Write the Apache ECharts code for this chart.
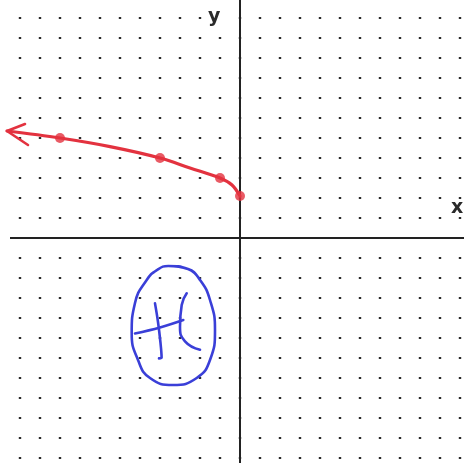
<!DOCTYPE html>
<html>
<head>
<meta charset="utf-8">
<script src="https://cdn.jsdelivr.net/npm/echarts@6/dist/echarts.min.js"></script>
<style>
  html, body { margin: 0; padding: 0; background: #ffffff; }
  #chart { width: 464px; height: 463px; }
</style>
</head>
<body>
<div id="chart"></div>
<script>
// Sketched graph of the curve through the plotted points (0,2), (-1,3), (-4,4), (-9,5)
var xRange = [-12, 12];
var yRange = [-12, 12];

// plotted points of the curve
var pointsX = [0, -1, -4, -9];
var pointsY = [2.1, 3, 4, 5];

// freehand path of the red curve, ending in the arrow tip on the left
var curveX = [0, -0.4, -1, -2.5, -4, -6.5, -9, -11.65];
var curveY = [2.1, 2.65, 3, 3.5, 4, 4.57, 5, 5.35];

// open arrowhead at the left end of the curve
var arrowX = [-10.75, -11.65, -10.6];
var arrowY = [5.7, 5.35, 4.65];

// horizontal axis line
var xAxisLineX = [-11.5, 12];
var xAxisLineY = [0, 0];

// blue circled mark below the axis
var ovalX = [-3.585, -2.6, -2.0, -1.5, -1.25, -1.5, -2.165, -3.35, -4.5, -5.1, -5.415, -5.25, -4.665, -4.15, -3.585, -2.6, -2.0];
var ovalY = [-1.4, -1.55, -2.1, -3.1, -4.6, -6.1, -7.0, -7.35, -7.0, -6.1, -4.75, -3.25, -2.1, -1.6, -1.4, -1.55, -2.1];
var stemX = [-4.25, -4.1, -3.98, -3.92, -4.05];
var stemY = [-3.27, -4.2, -5.2, -5.98, -6.02];
var barX = [-5.25, -4.0, -2.835];
var barY = [-4.77, -4.47, -4.1];
var arcX = [-2.665, -2.915, -3.0, -2.75, -2.0];
var arcY = [-2.765, -3.35, -4.435, -5.165, -5.585];

function zip(xs, ys) {
  return xs.map(function (x, i) { return [x, ys[i]]; });
}

var red = '#e3323f';
var blue = '#3a3fd8';
var ink = '#222222';

var chart = echarts.init(document.getElementById('chart'), null, { renderer: 'canvas' });

function blueStroke(xs, ys, smooth) {
  return {
    type: 'line',
    data: zip(xs, ys),
    smooth: smooth,
    symbol: 'none',
    silent: true,
    lineStyle: { color: blue, width: 2.6, cap: 'round', join: 'round' },
    z: 3
  };
}

chart.setOption({
  animation: false,
  backgroundColor: '#ffffff',
  grid: { left: 0, top: -2, width: 480, height: 480, containLabel: false, outerBoundsMode: 'none' },
  xAxis: {
    type: 'value',
    min: xRange[0], max: xRange[1], interval: 1,
    axisLine: { show: false },
    axisTick: { show: false },
    axisLabel: { show: false },
    splitLine: {
      show: true,
      showMinLine: false,
      showMaxLine: false,
      lineStyle: { color: '#2a2a2a', width: 2.4, type: [2, 18], dashOffset: 1 }
    }
  },
  yAxis: {
    type: 'value',
    min: yRange[0], max: yRange[1], interval: 1,
    axisLine: { show: true, onZero: true, lineStyle: { color: ink, width: 2 } },
    axisTick: { show: false },
    axisLabel: { show: false },
    splitLine: { show: false }
  },
  graphic: [
    { type: 'text', left: 206, top: 8, z: 10, style: { text: 'y', font: 'bold 19px "DejaVu Sans"', fill: '#2a2a2a', backgroundColor: '#ffffff', padding: [0, 3, 0, 2] } },
    { type: 'text', left: 451, top: 199, z: 10, style: { text: 'x', font: 'bold 19px "DejaVu Sans"', fill: '#2a2a2a' } }
  ],
  series: [
    {
      type: 'line',
      data: zip(xAxisLineX, xAxisLineY),
      symbol: 'none',
      silent: true,
      lineStyle: { color: ink, width: 2 },
      z: 1
    },
    {
      type: 'line',
      data: zip(curveX, curveY),
      smooth: 0.35,
      symbol: 'none',
      silent: true,
      clip: false,
      lineStyle: { color: red, width: 3.2, cap: 'round' },
      z: 4
    },
    {
      type: 'line',
      data: zip(arrowX, arrowY),
      symbol: 'none',
      silent: true,
      clip: false,
      lineStyle: { color: red, width: 2.6, cap: 'round', join: 'round' },
      z: 4
    },
    {
      type: 'scatter',
      data: zip(pointsX, pointsY),
      symbol: 'circle',
      symbolSize: 10,
      silent: true,
      itemStyle: { color: red },
      z: 5
    },
    blueStroke(ovalX, ovalY, 0.5),
    blueStroke(stemX, stemY, 0.4),
    blueStroke(barX, barY, 0.4),
    blueStroke(arcX, arcY, 0.5)
  ]
});
</script>
</body>
</html>
